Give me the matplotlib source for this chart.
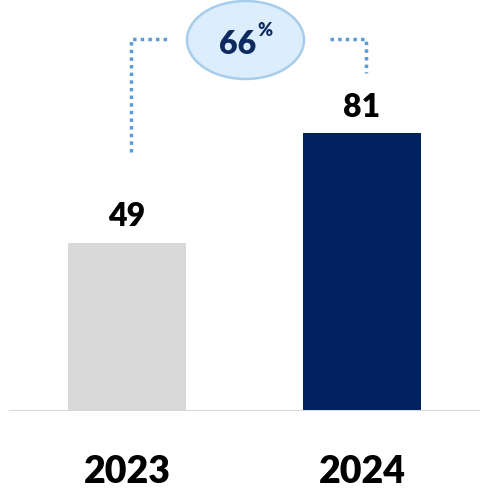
import matplotlib
matplotlib.use("Agg")
import matplotlib.pyplot as plt
from matplotlib.patches import Ellipse
from matplotlib.lines import Line2D
import matplotlib.transforms as mtransforms

categories = ["2023", "2024"]
values = [49, 81]
bar_colors = ["#D9D9D9", "#002060"]
growth_label = "66"
growth_suffix = "%"

W, H = 480, 489
fig = plt.figure(figsize=(W / 100, H / 100), dpi=100)
plt.rcParams['font.family'] = ['Lato', 'DejaVu Sans']
WEIGHT = "heavy"

def fx(x):
    return x / W

def fy(y):
    return 1 - y / H

ax = fig.add_axes([fx(9), fy(412), (480 - 9) / W, 412 / H])
ax.set_xlim(-0.502, 1.502)
ax.set_ylim(0, 412 / 3.43)
xs = list(range(len(categories)))
ax.bar(xs, values, width=0.502, color=bar_colors, zorder=2)
for s in ax.spines.values():
    s.set_visible(False)
ax.axhline(0, color="#D9D9D9", lw=1.5, zorder=3)
ax.set_xticks([])
ax.set_yticks([])

for x, v in zip(xs, values):
    ax.annotate(str(v), (x, v), xytext=(0, 9), textcoords="offset points",
                ha="center", va="bottom", fontsize=23, fontweight=WEIGHT, color="black")

trans = mtransforms.blended_transform_factory(ax.transData, fig.transFigure)
for x, c in zip(xs, categories):
    ax.text(x, fy(472), c, transform=trans, ha="center", va="center",
            fontsize=27, fontweight=WEIGHT, color="black", clip_on=False)

dot_kw = dict(color="#5B9BD5", lw=2.5, linestyle=(0, (1, 1.2)), transform=fig.transFigure)
fig.add_artist(Line2D([fx(131), fx(131), fx(168)], [fy(153), fy(40), fy(40)], **dot_kw))
fig.add_artist(Line2D([fx(330), fx(366), fx(366)], [fy(40), fy(40), fy(74)], **dot_kw))

ell = Ellipse((fx(245.5), fy(41)), 117 / W, 78 / H, transform=fig.transFigure,
              facecolor="#DCEDFB", edgecolor="#A6CDEE", lw=1.8)
fig.add_artist(ell)
fig.text(fx(238), fy(45), growth_label, ha="center", va="center", fontsize=23,
         fontweight=WEIGHT, color="#0D2B5E")
fig.text(fx(265), fy(30), growth_suffix, ha="center", va="center", fontsize=13,
         fontweight=WEIGHT, color="#0D2B5E")

fig.savefig("out.png", dpi=100)
